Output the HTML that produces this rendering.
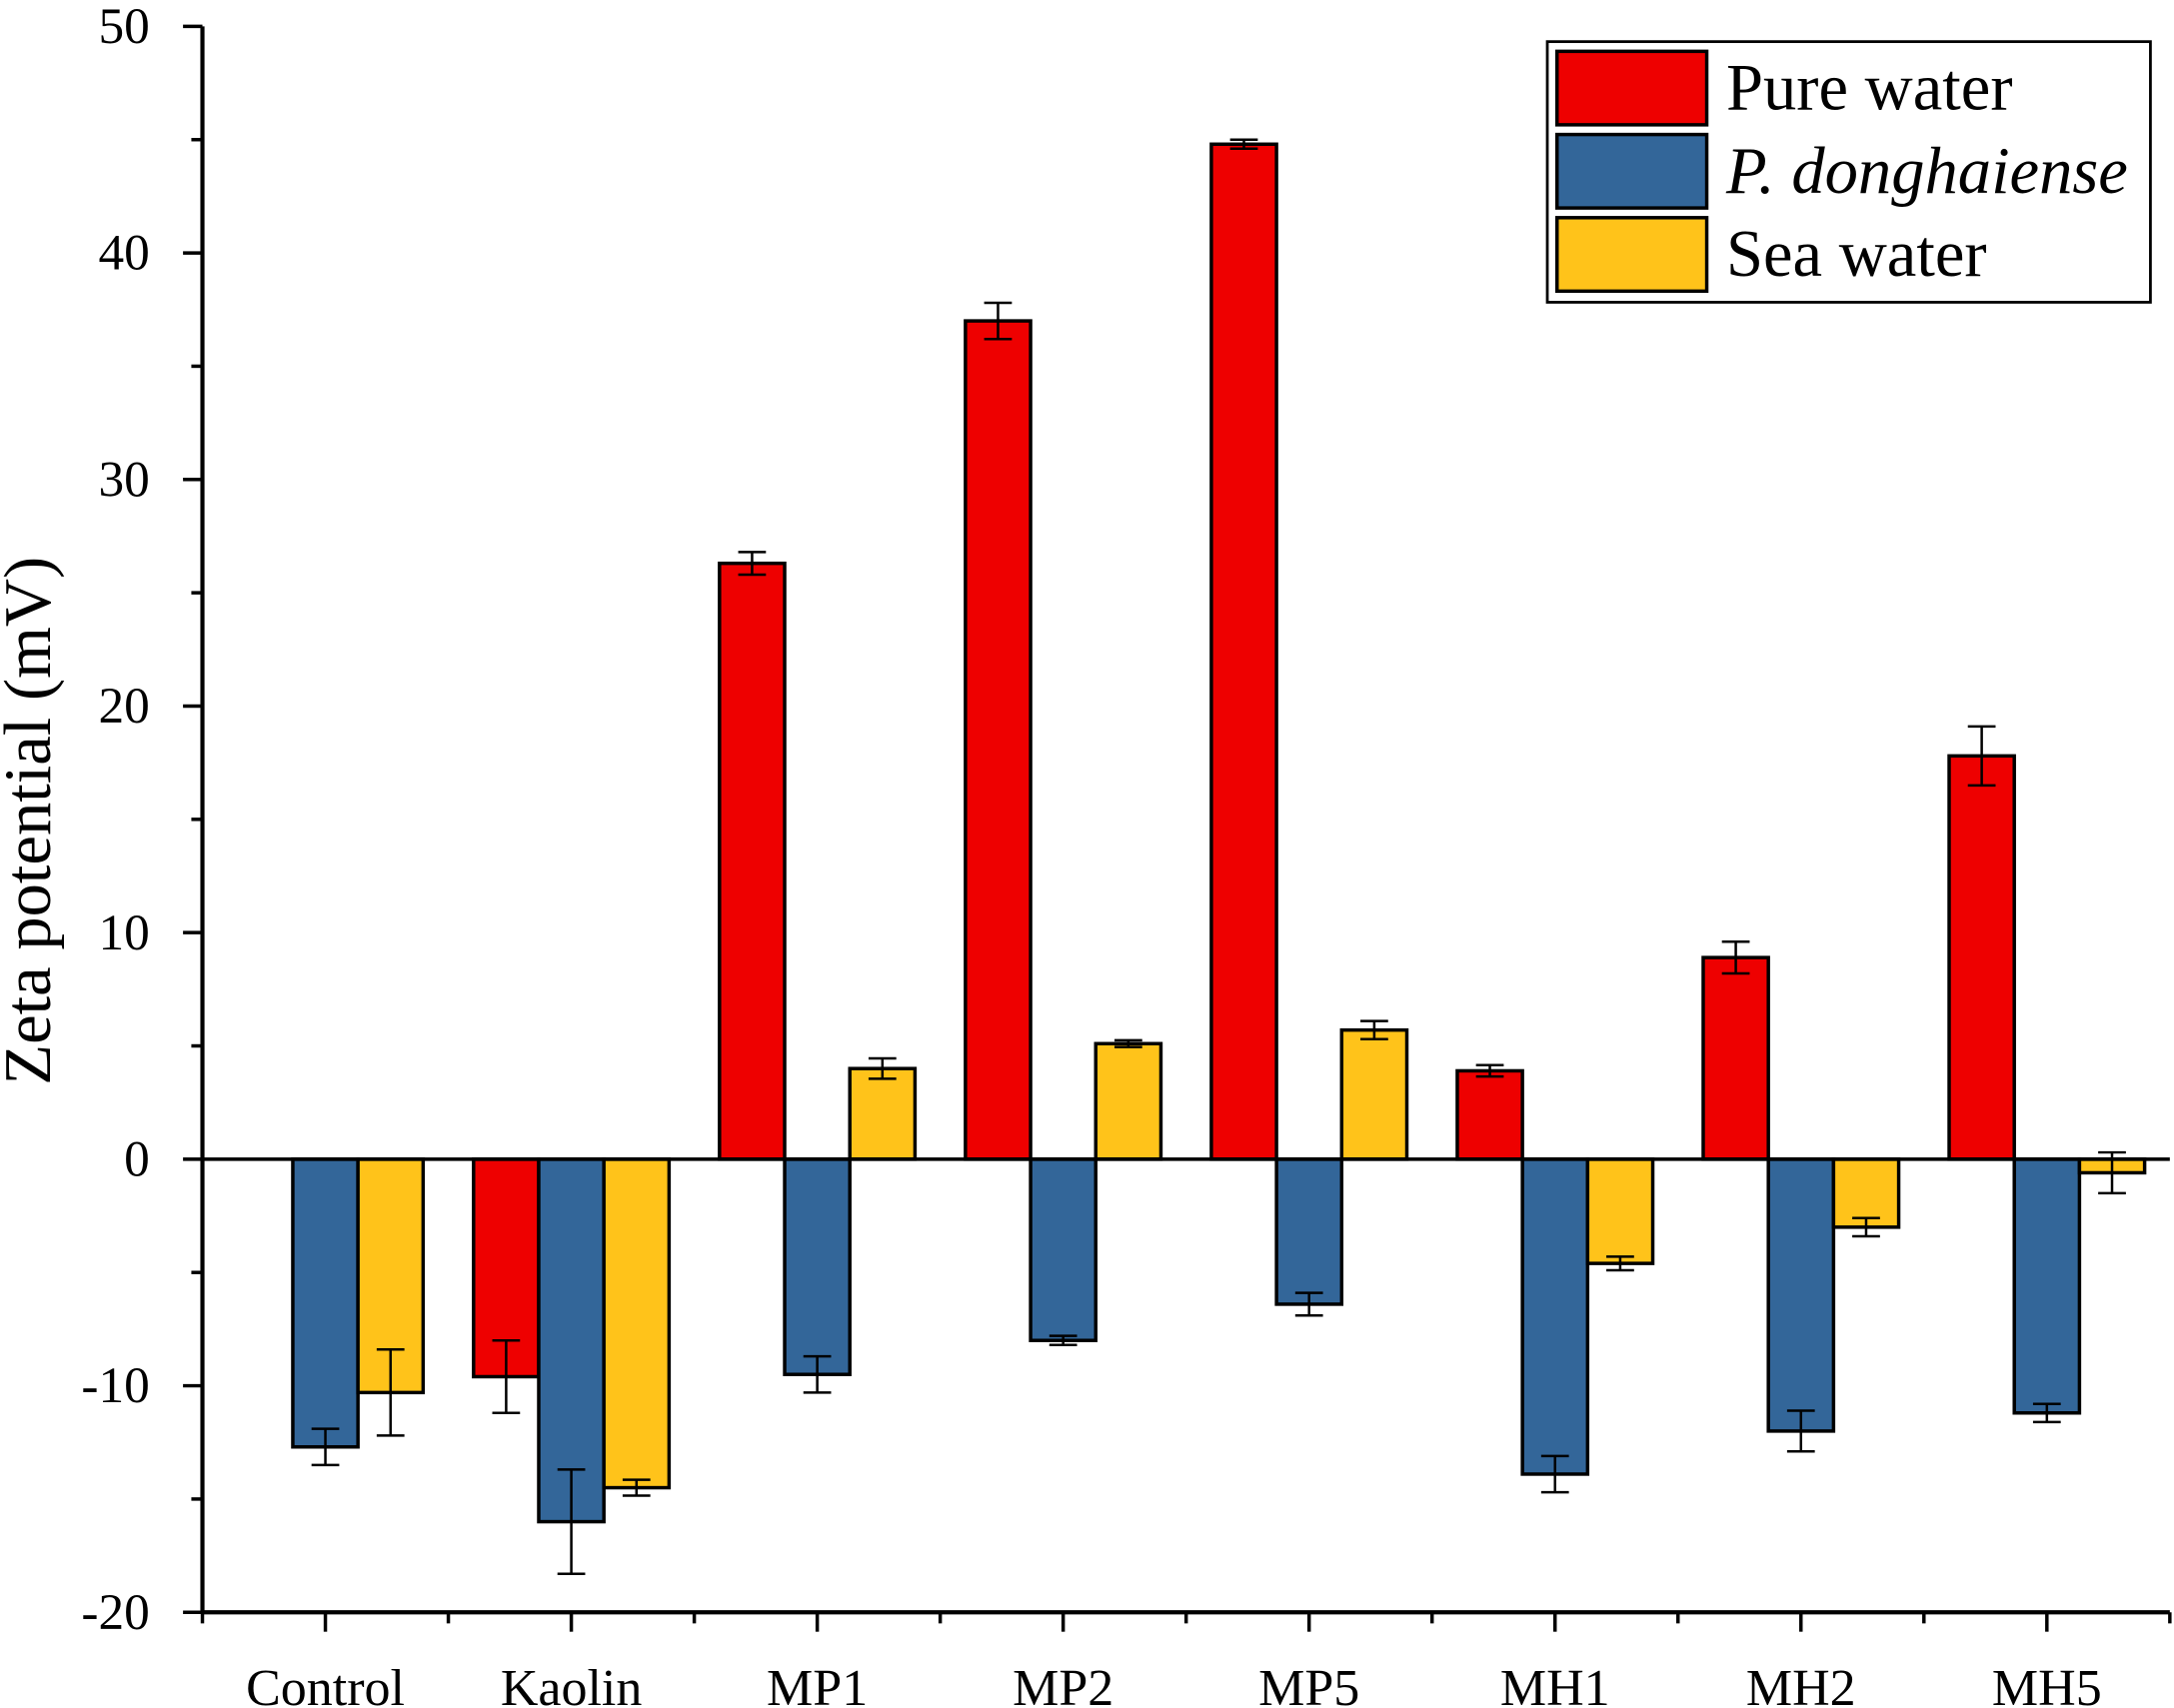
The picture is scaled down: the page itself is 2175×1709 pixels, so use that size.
<!DOCTYPE html>
<html><head><meta charset="utf-8"><style>
html,body{margin:0;padding:0;background:#fff;}
svg{display:block;font-family:"Liberation Serif",serif;}
</style></head><body>
<svg id="chart" width="2175" height="1709" viewBox="0 0 1568 1232" xmlns="http://www.w3.org/2000/svg"></svg>
<script>
const categories=["Control","Kaolin","MP1","MP2","MP5","MH1","MH2","MH5"];
const pureWater=[0,-9.6,26.3,37.0,44.8,3.9,8.9,17.8];
const pureWaterErr=[0,1.6,0.5,0.8,0.2,0.25,0.7,1.3];
const donghaiense=[-12.7,-16.0,-9.5,-8.0,-6.4,-13.9,-12.0,-11.2];
const donghaienseErr=[0.8,2.3,0.8,0.2,0.5,0.8,0.9,0.4];
const seaWater=[-10.3,-14.5,4.0,5.1,5.7,-4.6,-3.0,-0.6];
const seaWaterErr=[1.9,0.35,0.45,0.15,0.4,0.3,0.4,0.9];
const yTicks=[-20,-10,0,10,20,30,40,50];
const seriesNames=["Pure water","P. donghaiense","Sea water"];
const colors=["#EE0000","#336699","#FFC31A"];

const NS="http://www.w3.org/2000/svg";
const svg=document.getElementById('chart');
const X0=146,X1=1565,YT=19,YB=1163,YMIN=-20,YMAX=50;
const y=v=>YB-(v-YMIN)/(YMAX-YMIN)*(YB-YT);
const step=(X1-X0)/categories.length;
const xc=i=>X0+step*(i+0.5);
const BW=47;
function el(t,a,p){const e=document.createElementNS(NS,t);for(const k in a)e.setAttribute(k,a[k]);(p||svg).appendChild(e);return e;}

const series=[[pureWater,pureWaterErr],[donghaiense,donghaienseErr],[seaWater,seaWaterErr]];
series.forEach((s,si)=>{
  categories.forEach((c,i)=>{
    const v=s[0][i],e=s[1][i];
    if(v===0&&e===0)return;
    const cx=xc(i)+(si-1)*BW;
    const r=el('rect',{x:cx-BW/2,y:Math.min(y(v),y(0)),width:BW,height:Math.abs(y(v)-y(0)),fill:colors[si],stroke:'#000','stroke-width':2.5});
    
    
    const g=el('g',{stroke:'#000','stroke-width':1.8,fill:'none'});
    
    
    el('line',{x1:cx,x2:cx,y1:y(v+e),y2:y(v-e)},g);
    el('line',{x1:cx-10,x2:cx+10,y1:y(v+e),y2:y(v+e)},g);
    el('line',{x1:cx-10,x2:cx+10,y1:y(v-e),y2:y(v-e)},g);
  });
});
const z=el('line',{x1:X0,x2:X1,y1:y(0),y2:y(0),stroke:'#000','stroke-width':2.5});

const ya=el('line',{x1:X0,x2:X0,y1:YT,y2:YB+1,stroke:'#000','stroke-width':3});

const xa=el('line',{x1:X0-1,x2:X1,y1:YB,y2:YB,stroke:'#000','stroke-width':3});

for(let v=YMIN;v<=YMAX;v+=5){
  const major=v%10===0;
  el('line',{x1:X0,x2:X0-(major?14:8),y1:y(v),y2:y(v),stroke:'#000','stroke-width':2.5});
}
yTicks.forEach(v=>{
  const t=el('text',{x:108,y:y(v)+12,'text-anchor':'end','font-size':37});
  t.textContent=v;
  
});
for(let i=0;i<=categories.length*2;i++){
  const xx=X0+step/2*i;
  el('line',{x1:xx,x2:xx,y1:YB,y2:YB+(i%2?14:8),stroke:'#000','stroke-width':2.5});
}
categories.forEach((c,i)=>{
  const t=el('text',{x:xc(i),y:1230,'text-anchor':'middle','font-size':37.5});
  t.textContent=c;
  
});
const yt=el('text',{x:0,y:0,transform:'translate(36,592) rotate(-90)','text-anchor':'middle','font-size':48});
yt.textContent='Zeta potential (mV)';

const lg=el('g',{});

el('rect',{x:1116,y:30,width:435,height:188,fill:'#fff',stroke:'#000','stroke-width':2},lg);
seriesNames.forEach((n,i)=>{
  const yy=37+i*60;
  el('rect',{x:1123,y:yy,width:108,height:53,fill:colors[i],stroke:'#000','stroke-width':2.5},lg);
  const t=el('text',{x:1245,y:yy+42,'font-size':48,'font-style':i===1?'italic':'normal'},lg);
  t.textContent=n;
  
});
</script>
</body></html>
